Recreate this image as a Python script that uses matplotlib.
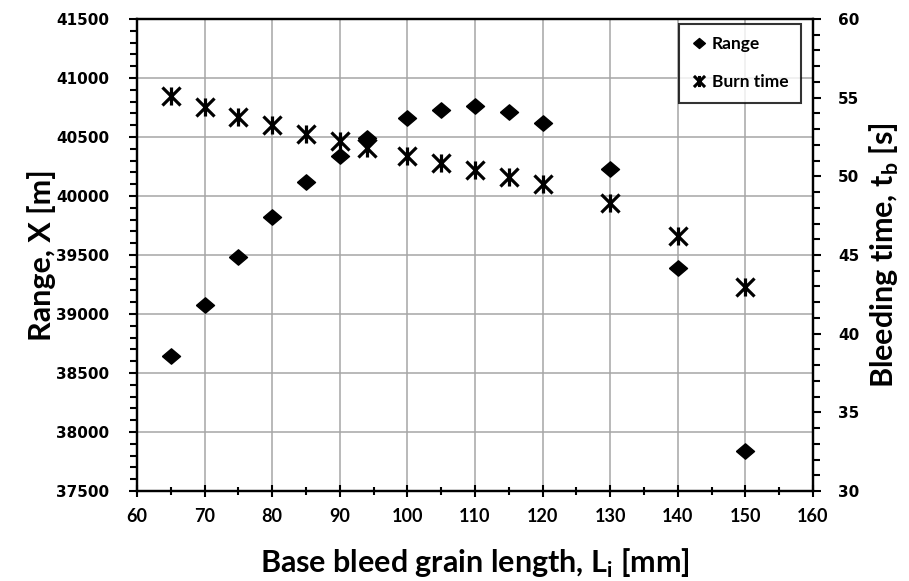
import matplotlib.pyplot as plt
from matplotlib.path import Path
from matplotlib.ticker import MultipleLocator

# grain length [mm]
length = [65, 70, 75, 80, 85, 90, 94, 100, 105, 110, 115, 120, 130, 140, 150]
# range [m]
rng = [38640, 39080, 39480, 39820, 40120, 40340, 40490, 40665, 40725, 40760,
       40712, 40620, 40225, 39390, 37840]
# burn time [s]
burn = [55.1, 54.4, 53.8, 53.25, 52.7, 52.25, 51.8, 51.3, 50.85, 50.4,
        49.95, 49.5, 48.3, 46.2, 42.95]

diamond = [(-1, 0), (0, 0.85), (1, 0), (0, -0.85), (-1, 0)]
# X with a vertical bar through it
star = Path([(-1, -1), (1, 1), (-1, 1), (1, -1), (0, -1), (0, 1)],
            [Path.MOVETO, Path.LINETO] * 3)

fig = plt.figure(figsize=(9.09, 5.81), dpi=100)
ax = fig.add_axes([0.1507, 0.1549, 0.7437, 0.8124])
ax2 = ax.twinx()

ax.plot(length, rng, ls='none', marker=diamond, ms=13, color='black', zorder=3)
ax2.plot(length, burn, ls='none', marker=star, ms=13, mew=2.3, mfc='none',
         color='black', zorder=3)

# legend handles
h1 = ax.plot([], [], ls='none', marker=diamond, ms=8.5, color='black')[0]
h2 = ax.plot([], [], ls='none', marker=star, ms=8, mew=2.2, mfc='none',
             color='black')[0]

ax.set_xlim(60, 160)
ax.set_ylim(37500, 41500)
ax2.set_ylim(30, 60)

ax.xaxis.set_major_locator(MultipleLocator(10))
ax.xaxis.set_minor_locator(MultipleLocator(5))
ax.yaxis.set_major_locator(MultipleLocator(500))
ax.yaxis.set_minor_locator(MultipleLocator(100))
ax2.yaxis.set_major_locator(MultipleLocator(5))
ax2.yaxis.set_minor_locator(MultipleLocator(1))

ax.grid(True, which='major', color='#a6a6a6', lw=1.1)
ax.set_axisbelow(True)

for a in (ax, ax2):
    for s in a.spines.values():
        s.set_linewidth(1.6)
        s.set_color('black')

ax.tick_params(axis='x', which='both', direction='inout', width=1.5, pad=8)
ax.tick_params(axis='x', which='major', length=8)
ax.tick_params(axis='x', which='minor', length=6)
ax.tick_params(axis='y', which='both', direction='out', width=1.5)
ax.tick_params(axis='y', which='major', length=6, pad=14)
ax.tick_params(axis='y', which='minor', length=5)
ax2.tick_params(axis='y', which='both', direction='out', width=1.5)
ax2.tick_params(axis='y', which='major', length=6, pad=12)
ax2.tick_params(axis='y', which='minor', length=5)

for lab in ax.get_xticklabels():
    lab.set_fontfamily('Lato')
    lab.set_fontweight('bold')
    lab.set_fontsize(13)
for lab in ax.get_yticklabels() + ax2.get_yticklabels():
    lab.set_fontfamily('DejaVu Sans')
    lab.set_fontweight('bold')
    lab.set_fontsize(11)

title_font = dict(fontfamily='Lato', fontweight='bold', fontsize=22)
ax.set_xlabel('Base bleed grain length, L$_\\mathregular{i}$ [mm]',
              labelpad=16, **title_font)
ax.set_ylabel('Range, X [m]', labelpad=0, **title_font)
ax2.set_ylabel('Bleeding time, t$_\\mathregular{b}$ [s]', labelpad=6,
               **title_font)

leg = ax2.legend([h1, h2], ['Range', 'Burn time'], loc='upper right',
                 bbox_to_anchor=(0.982, 0.99), frameon=True, fancybox=False,
                 handlelength=0.9, handletextpad=0.3, labelspacing=1.3,
                 borderpad=0.7, borderaxespad=0,
                 prop={'family': 'Lato', 'weight': 'bold', 'size': 12.5})
leg.get_frame().set_edgecolor('black')
leg.get_frame().set_linewidth(1.5)

fig.savefig('out.png', dpi=100)
